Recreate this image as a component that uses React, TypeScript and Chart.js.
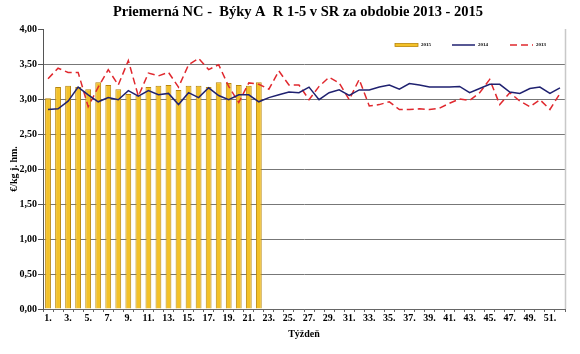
import React, { useEffect, useRef } from "react";
import { Chart, registerables } from "chart.js";

Chart.register(...registerables);

const weeks: string[] = Array.from({ length: 52 }, (_, i) => `${i + 1}.`);

const series2015: number[] = [
  3.01, 3.17, 3.19, 3.17, 3.14, 3.24, 3.20, 3.14, 3.07, 3.05,
  3.17, 3.19, 3.20, 3.13, 3.19, 3.19, 3.17, 3.24, 3.23, 3.20,
  3.19, 3.24,
];

const series2014: number[] = [
  2.85, 2.86, 2.97, 3.17, 3.06, 2.96, 3.02, 2.99, 3.12, 3.04,
  3.12, 3.06, 3.08, 2.92, 3.09, 3.02, 3.16, 3.05, 2.99, 3.06,
  3.06, 2.96, 3.02, 3.06, 3.10, 3.09, 3.17, 2.99, 3.09, 3.13,
  3.05, 3.13, 3.13, 3.17, 3.20, 3.14, 3.22, 3.20, 3.17, 3.17,
  3.17, 3.18, 3.09, 3.15, 3.21, 3.21, 3.10, 3.08, 3.15, 3.17,
  3.08, 3.16,
];

const series2013: number[] = [
  3.29, 3.44, 3.38, 3.38, 2.89, 3.17, 3.42, 3.20, 3.55, 3.04,
  3.37, 3.33, 3.38, 3.17, 3.49, 3.58, 3.42, 3.49, 3.18, 2.95,
  3.23, 3.21, 3.14, 3.40, 3.20, 3.20, 2.99, 3.18, 3.31, 3.23,
  2.99, 3.28, 2.90, 2.92, 2.96, 2.85, 2.85, 2.86, 2.85, 2.87,
  2.94, 3.00, 2.98, 3.09, 3.28, 2.92, 3.09, 2.97, 2.89, 2.99,
  2.85, 3.08,
];

const seriesNames: string[] = ["2015", "2014", "2013"];
const titleText = "Priemerná NC -  Býky A  R 1-5 v SR za obdobie 2013 - 2015";
const yTitle = "€/kg j. hm.";
const xTitle = "Týždeň";

const SERIF = '"Liberation Serif", "Times New Roman", serif';

const decorPlugin = {
  id: "decor",
  afterDraw(chart: any) {
    const { ctx, chartArea } = chart;
    ctx.save();
    // title
    ctx.font = `bold 14.5px ${SERIF}`;
    ctx.fillStyle = "#000";
    ctx.textAlign = "center";
    ctx.textBaseline = "middle";
    ctx.fillText(titleText, (chartArea.left + chartArea.right) / 2 - 6, 12);

    // legend inside plot
    const y = chartArea.top + 16;
    const starts = [chartArea.right - 170, chartArea.right - 113, chartArea.right - 55];
    const sw = 23;
    ctx.font = `bold 5px ${SERIF}`;
    ctx.textAlign = "left";
    chart.data.datasets.forEach((ds: any, i: number) => {
      const x = starts[i];
      if (ds.type === "bar") {
        ctx.fillStyle = ds.backgroundColor;
        ctx.fillRect(x, y - 1.5, sw, 3);
        ctx.strokeStyle = ds.borderColor;
        ctx.lineWidth = 0.8;
        ctx.strokeRect(x, y - 1.5, sw, 3);
      } else {
        ctx.strokeStyle = ds.borderColor;
        ctx.lineWidth = ds.borderWidth;
        ctx.setLineDash(ds.borderDash || []);
        ctx.beginPath();
        ctx.moveTo(x, y);
        ctx.lineTo(x + sw, y);
        ctx.stroke();
        ctx.setLineDash([]);
      }
      ctx.fillStyle = "#000";
      ctx.fillText(ds.label, x + sw + 3, y);
    });
    // right border of plot area
    ctx.strokeStyle = "#c8c8c8";
    ctx.lineWidth = 1.5;
    ctx.beginPath();
    ctx.moveTo(chartArea.right + 0.5, chartArea.top);
    ctx.lineTo(chartArea.right + 0.5, chartArea.bottom);
    ctx.stroke();
    ctx.restore();
  },
};

export default function App() {
  const ref = useRef<HTMLCanvasElement | null>(null);

  useEffect(() => {
    if (!ref.current) return;
    const chart = new Chart(ref.current, {
      type: "bar",
      data: {
        labels: weeks,
        datasets: [
          {
            type: "bar",
            label: seriesNames[0],
            data: series2015,
            backgroundColor: "#F3C128",
            borderColor: "#B8860B",
            borderWidth: 1,
            barPercentage: 0.58,
            categoryPercentage: 1,
            order: 3,
          } as any,
          {
            type: "line",
            label: seriesNames[1],
            data: series2014,
            borderColor: "#1F2170",
            backgroundColor: "#1F2170",
            borderWidth: 1.5,
            pointRadius: 0,
            tension: 0,
            order: 1,
          } as any,
          {
            type: "line",
            label: seriesNames[2],
            data: series2013,
            borderColor: "#E0282E",
            backgroundColor: "#E0282E",
            borderWidth: 1.5,
            borderDash: [7, 4],
            pointRadius: 0,
            tension: 0,
            order: 2,
          } as any,
        ],
      },
      options: {
        responsive: false,
        animation: false,
        devicePixelRatio: 1,
        layout: { padding: { left: 6, right: 15, top: 29, bottom: 2 } },
        plugins: {
          legend: { display: false },
          tooltip: { enabled: false },
          title: { display: false },
        },
        scales: {
          x: {
            afterFit: (s: any) => {
              s.height = 43;
            },
            grid: {
              display: true,
              drawOnChartArea: false,
              drawTicks: true,
              tickLength: 3,
              color: "#666",
              offset: true,
            },
            border: { color: "#666", width: 1 },
            ticks: {
              autoSkip: false,
              maxRotation: 0,
              minRotation: 0,
              padding: 0,
              color: "#000",
              font: { family: SERIF, size: 10, weight: "bold" },
              callback: (_v: any, i: number) => (i % 2 === 0 ? weeks[i] : ""),
            },
            title: {
              display: true,
              text: xTitle,
              color: "#000",
              font: { family: SERIF, size: 10, weight: "bold" },
              padding: { top: 4, bottom: 12 },
            },
          },
          y: {
            min: 0,
            max: 4,
            afterFit: (s: any) => {
              s.width = 37;
            },
            grid: {
              color: (c: any) => (c.tick && c.tick.value === 4 ? "rgba(0,0,0,0)" : "#777"),
              tickColor: "#555",
              drawTicks: true,
              tickLength: 5,
              lineWidth: 1,
            },
            border: { color: "#555", width: 1 },
            ticks: {
              stepSize: 0.5,
              padding: 1,
              color: "#000",
              font: { family: SERIF, size: 10, weight: "bold" },
              callback: (v: any) => Number(v).toFixed(2).replace(".", ","),
            },
            title: {
              display: true,
              text: yTitle,
              color: "#000",
              font: { family: SERIF, size: 10, weight: "bold" },
              padding: { top: 2, bottom: 0 },
            },
          },
        },
      },
      plugins: [decorPlugin],
    });
    return () => chart.destroy();
  }, []);

  return (
    <div style={{ position: "absolute", left: 0, top: 0, width: 580, height: 354, background: "#fff" }}>
      <canvas ref={ref} width={580} height={354} />
    </div>
  );
}
